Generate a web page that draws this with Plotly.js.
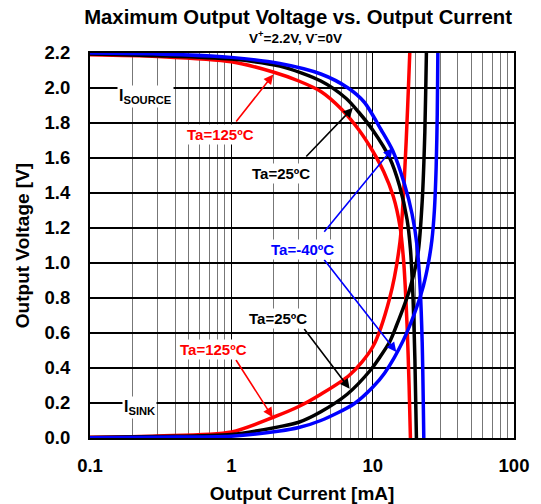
<!DOCTYPE html>
<html>
<head>
<meta charset="utf-8">
<script src="https://cdn.plot.ly/plotly-3.0.1.min.js"></script>
<style>html,body{margin:0;padding:0;background:#fff;}#chart{width:541px;height:504px;}</style>
</head>
<body>
<div id="chart"></div>
<script>
// ---- Data (I in mA, V in volts) ----
const redSrcI  = [0.1, 0.3, 1, 2, 3, 4.3, 6, 8, 10, 12, 14, 15.6, 16.6, 17.5, 18.1, 18.5];
const redSrcV  = [2.19, 2.18, 2.15, 2.09, 2.04, 1.98, 1.88, 1.76, 1.64, 1.52, 1.38, 1.21, 1.0, 0.65, 0.3, 0.0];
const blkSrcI  = [0.1, 0.3, 1, 2.2, 4.3, 6.5, 8, 10, 13.2, 15.5, 17.5, 18.5, 19.3, 19.9, 20.4];
const blkSrcV  = [2.195, 2.185, 2.165, 2.125, 2.04, 1.94, 1.86, 1.76, 1.60, 1.44, 1.25, 1.08, 0.80, 0.45, 0.0];
const bluSrcI  = [0.1, 0.3, 1, 2.2, 4.3, 6.7, 8.7, 11.5, 13.9, 16.8, 19.0, 20.6, 21.7, 22.4, 23.0];
const bluSrcV  = [2.2, 2.195, 2.175, 2.14, 2.08, 2.0, 1.92, 1.76, 1.64, 1.45, 1.28, 1.10, 0.85, 0.55, 0.0];

const redSnkI  = [0.1, 0.3, 1, 2, 3, 4.3, 6.87, 10, 13.2, 15.6, 16.8, 17.7, 18.3, 18.6];
const redSnkV  = [0.005, 0.012, 0.035, 0.12, 0.18, 0.25, 0.36, 0.52, 0.80, 1.12, 1.5, 1.9, 2.2, 2.35];
const blkSnkI  = [0.1, 0.3, 1, 2.2, 3, 4.3, 6.6, 9.7, 11.2, 13.2, 14.7, 18.2, 20.9, 22.4, 23.4, 24.0, 24.3];
const blkSnkV  = [0.003, 0.008, 0.02, 0.065, 0.09, 0.15, 0.25, 0.39, 0.46, 0.55, 0.64, 0.845, 1.05, 1.35, 1.75, 2.2, 2.4];
const bluSnkI  = [0.1, 0.3, 1, 2.2, 3, 4.3, 7.4, 10, 12.13, 16.52, 20.56, 22.86, 24.79, 26.24, 27.33, 28.14, 28.64, 28.92, 29.1];
const bluSnkV  = [0.002, 0.005, 0.01, 0.04, 0.06, 0.10, 0.196, 0.29, 0.37, 0.56, 0.75, 0.87, 1.0, 1.13, 1.30, 1.55, 1.85, 2.2, 2.4];

const xTickVals = [0.1, 1, 10, 100];
const xTickText = ['0.1', '1', '10', '100'];
const yTickVals = [0, 0.2, 0.4, 0.6, 0.8, 1.0, 1.2, 1.4, 1.6, 1.8, 2.0, 2.2];
const yTickText = ['0.0','0.2','0.4','0.6','0.8','1.0','1.2','1.4','1.6','1.8','2.0','2.2'];

const FONT = 'Liberation Sans, Arial, Helvetica, sans-serif';
const RED = '#ff0000', BLK = '#000000', BLU = '#0000ff';

function tr(x, y, c) {
  return {x: x, y: y, type: 'scatter', mode: 'lines',
          line: {color: c, width: 3.5, shape: 'spline', smoothing: 0.8},
          hoverinfo: 'skip', showlegend: false};
}
const traces = [
  tr(redSrcI, redSrcV, RED), tr(redSnkI, redSnkV, RED),
  tr(blkSrcI, blkSrcV, BLK), tr(blkSnkI, blkSnkV, BLK),
  tr(bluSrcI, bluSrcV, BLU), tr(bluSnkI, bluSnkV, BLU)
];

const L = Math.log10;
function label(text, I, V, color, size) {
  return {x: L(I), y: V, xref: 'x', yref: 'y', text: '<b>' + text + '</b>', showarrow: false,
          font: {family: FONT, size: size || 15, color: color}, bgcolor: '#ffffff', borderpad: 1,
          xanchor: 'center', yanchor: 'middle'};
}
function arrow(I0, V0, I1, V1, color) {
  return {x: L(I1), y: V1, ax: L(I0), ay: V0, xref: 'x', yref: 'y', axref: 'x', ayref: 'y',
          text: '', showarrow: true, arrowhead: 2, arrowsize: 1.2, arrowwidth: 1.6, arrowcolor: color};
}

const annotations = [
  arrow(1.062, 1.80, 1.98, 2.077, RED),
  arrow(3.31, 1.60, 7.25, 1.887, BLK),
  arrow(4.455, 1.170, 13.9, 1.657, BLU),
  arrow(4.455, 1.027, 14.7, 0.492, BLU),
  arrow(3.22, 0.6315, 6.87, 0.282, BLK),
  arrow(1.062, 0.454, 1.96, 0.119, RED),
  label('Ta=125ºC', 0.832, 1.733, RED),
  label('Ta=25ºC', 2.241, 1.51, BLK),
  label('Ta=-40ºC', 3.203, 1.0745, BLU),
  label('Ta=25ºC', 2.135, 0.685, BLK),
  label('Ta=125ºC', 0.743, 0.507, RED),
  label('I<sub>SOURCE</sub>', 0.246, 1.951, BLK, 16),
  label('I<sub>SINK</sub>', 0.2234, 0.175, BLK, 16),
  {x: 0.4835, y: 1.041, xref: 'paper', yref: 'paper', showarrow: false,
   text: '<b>V<sup>+</sup>=2.2V, V<sup>-</sup>=0V</b>', font: {family: FONT, size: 13.5, color: '#000'},
   xanchor: 'center', yanchor: 'middle'}
];

const layout = {
  width: 541, height: 504,
  margin: {l: 90, r: 27, t: 53, b: 66},
  paper_bgcolor: '#ffffff', plot_bgcolor: '#ffffff',
  font: {family: FONT, color: '#000'},
  title: {text: '<b>Maximum Output Voltage vs. Output Current</b>',
          font: {family: FONT, size: 20.3, color: '#000'},
          xref: 'container', x: 0.551, xanchor: 'center',
          yref: 'container', y: 0.966, yanchor: 'middle'},
  xaxis: {type: 'log', range: [-1, 2], tickmode: 'array', tickvals: xTickVals, ticktext: xTickText,
          tickfont: {family: FONT, size: 18.5, color: '#000', weight: 'bold'},
          showgrid: true, gridcolor: '#000', gridwidth: 1.6,
          minor: {dtick: 'D1', showgrid: true, gridcolor: '#777777', gridwidth: 1, ticks: ''},
          showline: true, linecolor: '#000', linewidth: 2, mirror: true,
          ticks: '', ticklabelstandoff: 10, zeroline: false,
          title: {text: '<b>Output Current [mA]</b>', font: {family: FONT, size: 19, color: '#000'}, standoff: 14}},
  yaxis: {range: [0, 2.2], tickmode: 'array', tickvals: yTickVals, ticktext: yTickText,
          tickfont: {family: FONT, size: 18.5, color: '#000', weight: 'bold'},
          showgrid: true, gridcolor: '#000', gridwidth: 1.4,
          showline: true, linecolor: '#000', linewidth: 2, mirror: true,
          ticks: '', ticklabelstandoff: 14, zeroline: false,
          title: {text: '<b>Output Voltage [V]</b>', font: {family: FONT, size: 19, color: '#000'}, standoff: 10}},
  annotations: annotations
};

Plotly.newPlot('chart', traces, layout, {staticPlot: true, displayModeBar: false});
</script>
</body>
</html>
